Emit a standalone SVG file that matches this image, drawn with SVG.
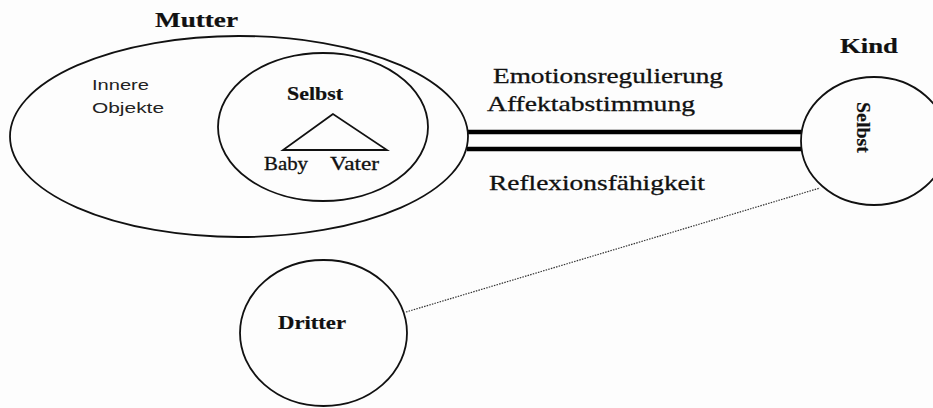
<svg xmlns="http://www.w3.org/2000/svg" width="933" height="408" viewBox="0 0 933 408">
<style>
.shape{fill:none;stroke:#111;stroke-width:1.8}
.serif{font-family:"Liberation Serif","Times New Roman",serif;fill:#111;stroke:#111;stroke-width:0.3}
.bold{font-weight:bold;stroke-width:0.2}
.sans{font-family:"Liberation Sans",Arial,sans-serif;fill:#222}
.thick{stroke:#000;stroke-width:4.5}
.dot{stroke:#333;stroke-width:1.2;stroke-dasharray:1.5 1.2}
</style>
<rect width="933" height="408" fill="#fdfdfd"/>
<g id="connectors">
<line class="thick" x1="467" y1="132" x2="802" y2="132"/>
<line class="thick" x1="467" y1="149" x2="802" y2="149"/>
<line class="dot" x1="406" y1="312" x2="820" y2="188"/>
<text class="serif" x="493" y="83" font-size="21.5" textLength="230" lengthAdjust="spacingAndGlyphs">Emotionsregulierung</text>
<text class="serif" x="487" y="111" font-size="21.5" textLength="208" lengthAdjust="spacingAndGlyphs">Affektabstimmung</text>
<text class="serif" x="489" y="190" font-size="21.5" textLength="216" lengthAdjust="spacingAndGlyphs">Reflexionsfähigkeit</text>
</g>
<g id="mutter">
<text class="serif bold" x="155" y="27" font-size="20" textLength="83" lengthAdjust="spacingAndGlyphs">Mutter</text>
<ellipse class="shape" cx="239" cy="136.5" rx="229" ry="100.5"/>
<text class="sans" x="92" y="90" font-size="15.5" textLength="57" lengthAdjust="spacingAndGlyphs">Innere</text>
<text class="sans" x="92" y="113" font-size="15.5" textLength="72" lengthAdjust="spacingAndGlyphs">Objekte</text>
</g>
<g id="mutter-selbst">
<ellipse class="shape" cx="323" cy="127" rx="105" ry="74"/>
<text class="serif bold" x="287" y="100" font-size="18" textLength="56" lengthAdjust="spacingAndGlyphs">Selbst</text>
<polygon class="shape" points="333,114 283,150 387,150" stroke-width="1.6"/>
<text class="serif" x="264" y="170" font-size="18" textLength="44" lengthAdjust="spacingAndGlyphs">Baby</text>
<text class="serif" x="330" y="170" font-size="18" textLength="49" lengthAdjust="spacingAndGlyphs">Vater</text>
</g>
<g id="kind">
<text class="serif bold" x="840" y="53" font-size="22" textLength="58" lengthAdjust="spacingAndGlyphs">Kind</text>
<ellipse class="shape" cx="874" cy="141" rx="73" ry="64"/>
<text class="serif bold" transform="translate(857,102) rotate(90)" x="0" y="0" font-size="19" textLength="51" lengthAdjust="spacingAndGlyphs">Selbst</text>
</g>
<g id="dritter">
<ellipse class="shape" cx="323.5" cy="333" rx="83.5" ry="73"/>
<text class="serif bold" x="278" y="329" font-size="19" textLength="68" lengthAdjust="spacingAndGlyphs">Dritter</text>
</g>
</svg>
